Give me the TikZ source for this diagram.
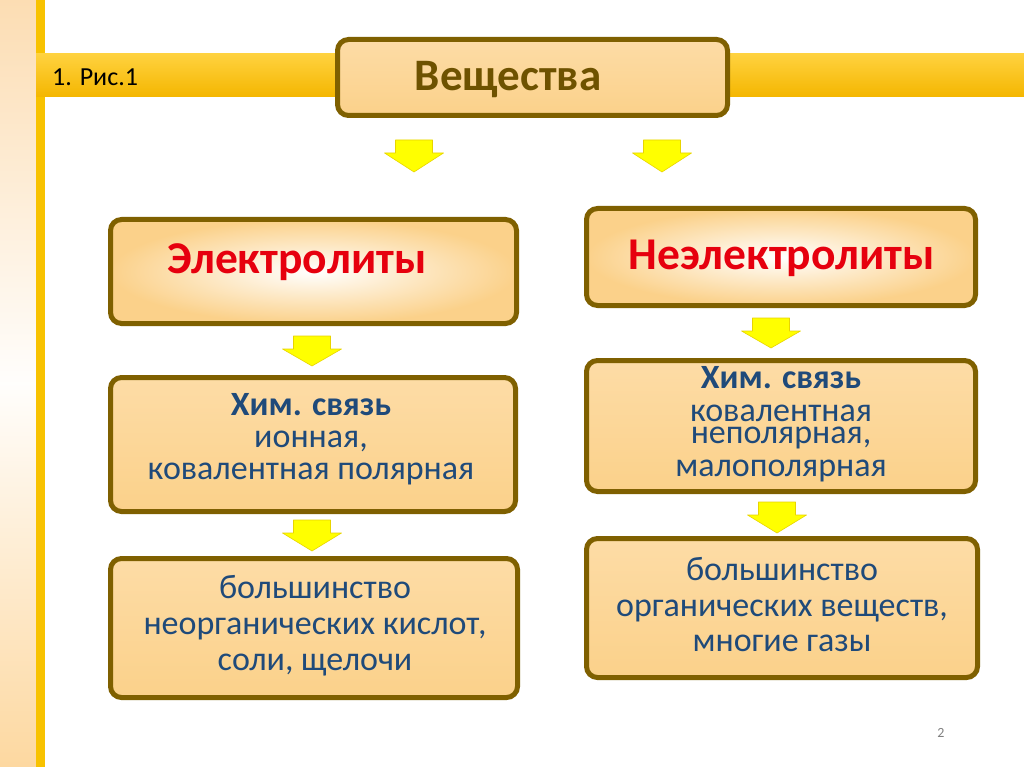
\documentclass[tikz,border=0pt]{standalone}
\usepackage{fontspec}
\setmainfont{Carlito}
\usetikzlibrary{shadings}
\definecolor{brd}{HTML}{7F6000}
\definecolor{boxfill}{HTML}{FBD18A}
\definecolor{boxtop}{HTML}{FDDCA6}
\definecolor{txtblue}{HTML}{1F4A7A}
\definecolor{redtxt}{HTML}{E6000E}
\definecolor{gold}{HTML}{F8C200}
\definecolor{bartop}{HTML}{FFD23F}
\definecolor{barbot}{HTML}{F4B600}
\definecolor{bandtop}{HTML}{FCDDB3}
\definecolor{bandbot}{HTML}{FDD8A0}
\definecolor{arrowyel}{HTML}{FFFF00}
\definecolor{arrowedge}{HTML}{E8D400}
\definecolor{titletxt}{HTML}{6E5200}
\newcommand{\blockarrow}[3]{%
  \fill[arrowyel,draw=arrowedge,line width=0.6pt,line join=round]
    ({#1-18.5},#2) -- ({#1+18.5},#2) -- ({#1+18.5},{#2+13}) -- ({#1+29.5},{#2+13})
    -- (#1,#3) -- ({#1-29.5},{#2+13}) -- ({#1-18.5},{#2+13}) -- cycle;}
\begin{document}
\begin{tikzpicture}[x=1pt,y=-1pt,
  box/.style={draw=brd,line width=5pt,rounded corners=11pt,top color=boxtop,bottom color=boxfill,inner sep=0pt},
  glowbox/.style={draw=brd,line width=5pt,rounded corners=11pt,inner sep=0pt,shading=radial,inner color=white,outer color=boxfill},
  bluetxt/.style={text=txtblue,align=center,font=\fontsize{34}{32}\selectfont,inner sep=0pt},
  redlbl/.style={text=redtxt,font=\bfseries\fontsize{45.5}{50}\selectfont,inner sep=0pt}]
\useasboundingbox (0,0) rectangle (1024,767);
\fill[white] (0,0) rectangle (1024,767);
% left band
\shade[top color=bandtop,bottom color=bandbot,middle color=white!96!bandtop] (0,0) rectangle (36,767);
\fill[gold] (36,0) rectangle (45,767);
% horizontal bar
\shade[top color=bartop,bottom color=barbot] (36,54) rectangle (1024,97);
\node[anchor=west,inner sep=0pt,font=\fontsize{26}{30}\selectfont] (fig) at (52,77) {1. Рис.1};
% boxes
\node[box,minimum width=390pt,minimum height=76pt] (veshch) at (532.5,77.5) {};
\node[text=titletxt,font=\bfseries\fontsize{45}{50}\selectfont,inner sep=0pt] (veshcht) at (508,80) {Вещества};

\node[glowbox,minimum width=406pt,minimum height=104pt] (el) at (313.5,271.5) {};
\node[redlbl] (elt) at (297,262) {Электролиты};

\node[glowbox,minimum width=389pt,minimum height=97pt] (nel) at (781,257) {};
\node[redlbl] (nelt) at (782,258) {Неэлектролиты};

\node[box,minimum width=405pt,minimum height=134pt] (elb) at (313,444.5) {};
\node[bluetxt] (elbt) at (311,439) {\textbf{Хим. связь}\\ионная,\\ковалентная полярная};

\node[box,minimum width=407pt,minimum height=139pt] (elx) at (314,628) {};
\node[bluetxt,font=\fontsize{34}{36}\selectfont] (elxt) at (315,626) {большинство\\неорганических кислот,\\соли, щелочи};

\node[box,minimum width=389pt,minimum height=131pt] (nelb) at (781,426) {};
\node[bluetxt,font=\fontsize{34}{33}\selectfont] (nelbt) at (781,424) {\textbf{Хим. связь}\\ковалентная\\[-11pt]неполярная,\\малополярная};

\node[box,minimum width=391pt,minimum height=139pt] (nelx) at (782,608) {};
\node[bluetxt,font=\fontsize{34}{35.5}\selectfont] (nelxt) at (782,605) {большинство\\органических веществ,\\многие газы};

% block arrows
\blockarrow{414}{140}{172}
\blockarrow{662}{140}{172}
\blockarrow{312}{336}{366}
\blockarrow{312}{520}{551}
\blockarrow{771}{318}{348}
\blockarrow{777}{502}{533}

\node[text=gray,font=\fontsize{14}{16}\selectfont,inner sep=0pt] (pg) at (941,733) {2};
\end{tikzpicture}
\end{document}
